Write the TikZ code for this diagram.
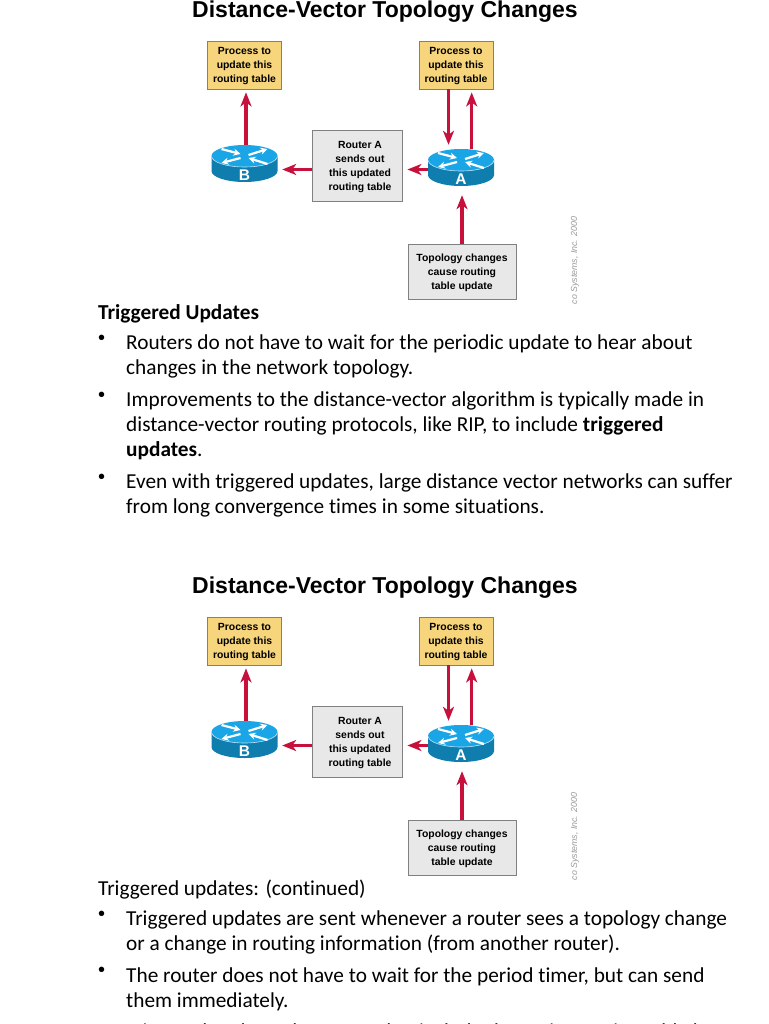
\documentclass[tikz,border=0pt]{standalone}
\usepackage{fontspec}
\setmainfont[Ligatures=NoCommon]{Carlito}
\newfontfamily\arialfont{Liberation Sans}
\usetikzlibrary{arrows.meta}

\definecolor{arrowred}{HTML}{C8103C}
\definecolor{boxyellow}{HTML}{F6D57C}
\definecolor{boxgrey}{HTML}{E8E8E8}
\definecolor{routertop}{HTML}{1AA6E6}
\definecolor{routerside}{HTML}{0F7DAE}

\tikzset{
    slidetitle/.style={font=\arialfont\bfseries\fontsize{23}{26}\selectfont, inner sep=0pt},
    procbox/.style={draw=black!50, fill=boxyellow, line width=0.8pt, minimum width=74pt, minimum height=48pt,
        inner sep=0pt, align=center, text depth=-5pt, font=\arialfont\bfseries\fontsize{10.4}{14}\selectfont},
    notebox/.style={draw=black!50, fill=boxgrey, line width=0.8pt, inner sep=0pt, align=center,
        text depth=-5pt, font=\arialfont\bfseries\fontsize{10.4}{14}\selectfont},
    bodytext/.style={anchor=north west, inner sep=0pt, align=left, font=\fontsize{21.3}{25}\selectfont},
    bulletmark/.style={anchor=north west, inner sep=0pt, font=\arialfont\fontsize{20}{25}\selectfont},
    redarrow/.style={draw=arrowred, line width=3.2pt, -{Stealth[length=14pt,width=11pt,inset=4pt]}},
    pics/router/.style={code={
        \fill[routerside] (-33,0) -- (-33,15) arc[start angle=180,end angle=360,x radius=33pt,y radius=11pt] -- (33,0) -- cycle;
        \fill[routertop] (0,0) ellipse[x radius=33pt,y radius=11pt];
        \draw[white!70!routertop, line width=0.6pt] (-33,0) arc[start angle=180,end angle=360,x radius=33pt,y radius=11pt];
        \foreach \xa/\ya/\xb/\yb in {-23/-7/-4/-2, -4/2/-23/7, 4/-1/23/-7, 23/8/4/2}
            \draw[white, line width=2.2pt, -{Stealth[length=7pt,width=7pt]}] (\xa,\ya) -- (\xb,\yb);
        \node[inner sep=0pt, text=white, font=\arialfont\bfseries\fontsize{15.5}{15.5}\selectfont] at (0,19.5) {#1};
        \node[minimum width=66pt, minimum height=37pt, inner sep=0pt] (-box) at (0,7.5) {};
    }},
}

\begin{document}
\begin{tikzpicture}[x=1pt,y=-1pt]

    \clip (0,0) rectangle (768,1024);
    \fill[white] (0,0) rectangle (768,1024);

    % the same slide picture twice
    \foreach \dy/\tag in {0/u,576/v} {
        \node[slidetitle] (title\tag) at (385,{12+\dy}) {Distance-Vector Topology Changes};

        \node[procbox] (procB\tag) at (244.5,{65+\dy}) {Process to\\update this\\routing table};
        \node[procbox] (procA\tag) at (456,{65+\dy}) {Process to\\update this\\routing table};
        \node[notebox, minimum width=90pt, minimum height=71pt] (sends\tag) at (357.5,{165.5+\dy})
            {\hspace*{5pt}Router A\\\hspace*{5pt}sends out\\\hspace*{5pt}this updated\\\hspace*{5pt}routing table};
        \node[notebox, minimum width=108pt, minimum height=55pt] (topo\tag) at (462,{271.5+\dy}) {Topology changes\\cause routing\\table update};

        \pic (rtB\tag) at (244.5,{156+\dy}) {router=B};
        \pic (rtA\tag) at (461,{160+\dy}) {router=A};

        \draw[redarrow] ([xshift=1.5pt]rtB\tag-box.north) -- ([xshift=1.5pt,yshift=-3pt]procB\tag.south);
        \draw[redarrow] ([yshift=-4pt]sends\tag.west) -- ([xshift=4.5pt,yshift=-6pt]rtB\tag-box.east);
        \draw[redarrow] ([yshift=-2pt]rtA\tag-box.west) -- ([xshift=4.5pt,yshift=-4pt]sends\tag.east);
        \draw[redarrow] ([xshift=-7.5pt]procA\tag.south) -- ([xshift=-12.5pt,yshift=4pt]rtA\tag-box.north);
        \draw[redarrow] ([xshift=10.7pt]rtA\tag-box.north) -- ([xshift=15.7pt,yshift=-3pt]procA\tag.south);
        \draw[redarrow] (topo\tag.north) -- ([xshift=1pt,yshift=-9pt]rtA\tag-box.south);

        \node[rotate=90, inner sep=0pt, text=black!40, font=\arialfont\itshape\fontsize{8.8}{8.8}\selectfont] (mark\tag) at (575,{260.5+\dy}) {co Systems, Inc. 2000};
    }

    % text under the first picture
    \node[bodytext, font=\fontsize{21.3}{25}\selectfont\bfseries] (headU) at (98,304) {Triggered Updates};
    \node[bulletmark] (bullU1) at (98,335) {•};
    \node[bodytext] (itemU1) at (126,335) {Routers do not have to wait for the periodic update to hear about\\changes in the network topology.};
    \node[bulletmark] (bullU2) at (98,392) {•};
    \node[bodytext] (itemU2) at (126,392) {Improvements to the distance-vector algorithm is typically made in\\distance-vector routing protocols, like RIP, to include \textbf{triggered}\\\textbf{updates}.};
    \node[bulletmark] (bullU3) at (98,474) {•};
    \node[bodytext] (itemU3) at (126,474) {Even with triggered updates, large distance vector networks can suffer\\from long convergence times in some situations.};

    % text under the second picture
    \node[bodytext] (headV) at (98,880) {Triggered updates: (continued)};
    \node[bulletmark] (bullV1) at (98,910.5) {•};
    \node[bodytext] (itemV1) at (126,910.5) {Triggered updates are sent whenever a router sees a topology change\\or a change in routing information (from another router).};
    \node[bulletmark] (bullV2) at (98,967) {•};
    \node[bodytext] (itemV2) at (126,967) {The router does not have to wait for the period timer, but can send\\them immediately.};
    \node[bodytext] (itemV3) at (126,1023) {Triggered updates do not need to include the entire routing table but};

\end{tikzpicture}
\end{document}
